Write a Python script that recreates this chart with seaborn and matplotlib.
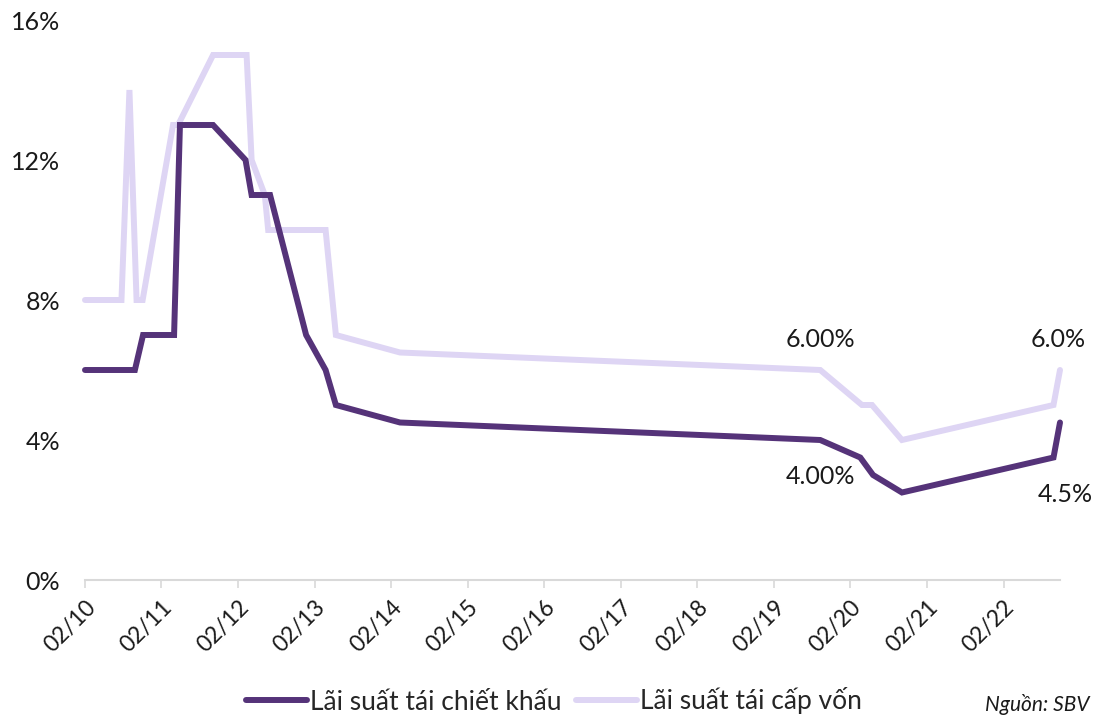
import matplotlib
matplotlib.use("Agg")
import matplotlib.pyplot as plt
import matplotlib.dates as mdates
import seaborn as sns
import pandas as pd

# SBV policy rates (%), dates of each rate change
refi_dates = ["2010-02-01", "2010-07-25", "2010-09-01", "2010-10-05", "2010-11-03",
              "2011-03-28", "2011-04-21", "2011-10-05", "2012-03-13", "2012-04-06",
              "2012-06-08", "2012-06-24", "2013-03-25", "2013-05-13", "2014-03-15",
              "2019-09-10", "2020-03-27", "2020-05-14", "2020-10-04", "2022-09-27",
              "2022-10-28"]
refi_rates = [8, 8, 14, 8, 8,
              13, 13, 15, 15, 12,
              11, 10, 10, 7, 6.5,
              6.0, 5, 5, 4, 5,
              6.0]

disc_dates = ["2010-02-01", "2010-09-27", "2010-11-05", "2011-04-02", "2011-04-30",
              "2011-10-05", "2012-03-08", "2012-04-06", "2012-07-03", "2012-12-22",
              "2013-03-25", "2013-05-13", "2014-03-15", "2019-09-10", "2020-03-19",
              "2020-05-19", "2020-10-04", "2022-09-27", "2022-10-28"]
disc_rates = [6, 6, 7, 7, 13,
              13, 12, 11, 11, 7,
              6, 5, 4.5, 4.0, 3.5,
              3, 2.5, 3.5, 4.5]

series_names = ["Lãi suất tái chiết khấu", "Lãi suất tái cấp vốn"]
tick_years = list(range(2010, 2023))
y_ticks = [0, 4, 8, 12, 16]
source_text = "Nguồn: SBV"

dark = "#553379"
light = "#ded5f4"
text_color = "#1a1a1a"

sns.set_theme(style="white")
plt.rcParams["font.family"] = ["Lato", "DejaVu Sans"]

disc = pd.DataFrame({"date": pd.to_datetime(disc_dates), "rate": disc_rates})
refi = pd.DataFrame({"date": pd.to_datetime(refi_dates), "rate": refi_rates})

fig = plt.figure(figsize=(10.97, 7.17), dpi=100)
ax = fig.add_axes([85 / 1097, 1 - 580 / 717, (1060 - 85) / 1097, 560 / 717])

sns.lineplot(data=disc, x="date", y="rate", ax=ax, color=dark, linewidth=4.3,
             label=series_names[0], legend=False, solid_joinstyle="miter", clip_on=False)
sns.lineplot(data=refi, x="date", y="rate", ax=ax, color=light, linewidth=4.3,
             label=series_names[1], legend=False, solid_joinstyle="miter", clip_on=False)
# discount rate drawn on top
ax.lines[0].set_zorder(3)
ax.lines[1].set_zorder(2)

ax.set_ylim(0, 16)
ax.set_xlim(pd.Timestamp(disc_dates[0]), pd.Timestamp(disc_dates[-1]))
ax.set_yticks(y_ticks)
ax.set_yticklabels([f"{v}%" for v in y_ticks], fontsize=18, color=text_color)
ax.set_xticks([pd.Timestamp(f"{y}-02-01") for y in tick_years])
ax.xaxis.set_major_formatter(mdates.DateFormatter("%m/%y"))
plt.setp(ax.get_xticklabels(), rotation=45, ha="right", rotation_mode="anchor",
         fontsize=16.5, color=text_color)
ax.tick_params(axis="x", length=6, width=1.2, color="#d9d9d9", direction="out",
               bottom=True, pad=6)
ax.tick_params(axis="y", length=0, pad=18)
ax.set_xlabel("")
ax.set_ylabel("")
for side in ["top", "right", "left"]:
    ax.spines[side].set_visible(False)
ax.spines["bottom"].set_color("#d9d9d9")
ax.spines["bottom"].set_linewidth(1.5)

# value labels at the September 2019 change and at the latest point
mid_i_refi = refi_dates.index("2019-09-10")
mid_i_disc = disc_dates.index("2019-09-10")
ann = dict(fontsize=18, color=text_color, ha="center", va="center",
           textcoords="offset points", annotation_clip=False)
ax.annotate(f"{refi_rates[mid_i_refi]:.2f}%", (refi.date[mid_i_refi], refi_rates[mid_i_refi]),
            xytext=(0, 22), **ann)
ax.annotate(f"{disc_rates[mid_i_disc]:.2f}%", (disc.date[mid_i_disc], disc_rates[mid_i_disc]),
            xytext=(0, -26), **ann)
ax.annotate(f"{refi_rates[-1]:.1f}%", (refi.date.iloc[-1], refi_rates[-1]),
            xytext=(-1, 22), **ann)
ax.annotate(f"{disc_rates[-1]:.1f}%", (disc.date.iloc[-1], disc_rates[-1]),
            xytext=(4, -52), **ann)

handles = ax.lines[:2]
fig.legend(handles, series_names, loc="center", bbox_to_anchor=(554 / 1097, 1 - 701 / 717),
           ncol=2, frameon=False, fontsize=19, handlelength=2.3, handletextpad=0.12,
           columnspacing=0.55)

fig.text(985 / 1097, 1 - 715 / 717, source_text, fontsize=15, style="italic",
         color=text_color, ha="left", va="bottom")

fig.savefig("out.png", dpi=100)
